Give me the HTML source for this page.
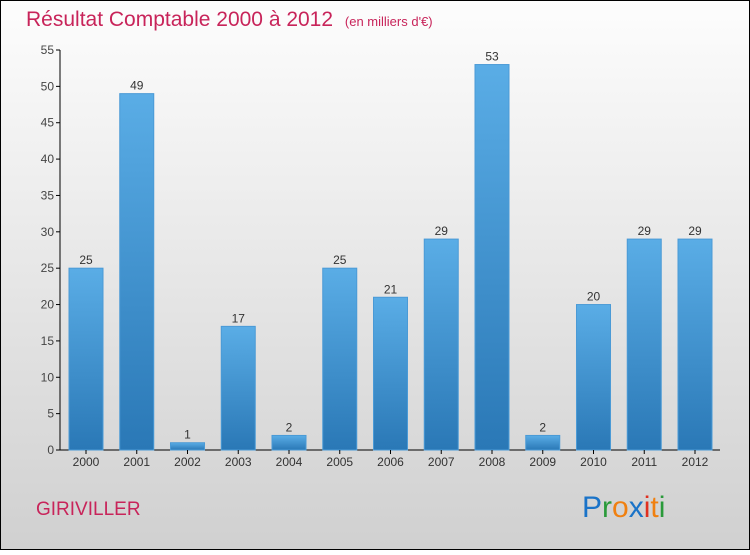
<!DOCTYPE html>
<html><head><meta charset="utf-8"><style>
html,body{margin:0;padding:0}
body{width:750px;height:550px;overflow:hidden;font-family:"Liberation Sans",sans-serif}
</style></head><body>
<svg width="750" height="550" xmlns="http://www.w3.org/2000/svg">
<defs>
<linearGradient id="bg" x1="0" y1="0" x2="0" y2="1"><stop offset="0" stop-color="#fdfdfd"/><stop offset="1" stop-color="#d0d0d0"/></linearGradient>
<linearGradient id="bar" x1="0" y1="0" x2="0" y2="1"><stop offset="0" stop-color="#5aade6"/><stop offset="1" stop-color="#2a78b6"/></linearGradient>
</defs>
<rect x="0.5" y="0.5" width="749" height="549" fill="url(#bg)" stroke="#000"/>
<text x="26" y="26" font-size="21" fill="#c8245a" font-weight="300">Résultat Comptable 2000 à 2012 <tspan font-size="13" dx="6">(en milliers d'€)</tspan></text>
<g id="plot"></g>
<text x="36" y="515" font-size="19" fill="#c8245a">GIRIVILLER</text>
<text x="582" y="517" font-size="30"><tspan fill="#1a73c8">P</tspan><tspan fill="#2a9a3a">r</tspan><tspan fill="#f08010">o</tspan><tspan fill="#1a73c8">x</tspan><tspan fill="#e03020">i</tspan><tspan fill="#f08010">t</tspan><tspan fill="#2a9a3a">i</tspan></text>
</svg>
<script>
const categories=["2000","2001","2002","2003","2004","2005","2006","2007","2008","2009","2010","2011","2012"];
const values=[25,49,1,17,2,25,21,29,53,2,20,29,29];
const yTicks=[0,5,10,15,20,25,30,35,40,45,50,55];
const NS="http://www.w3.org/2000/svg";
const g=document.getElementById("plot");
const y=v=>450-v*400/55;
const x=i=>86+i*50.75;
function mk(t,a){const e=document.createElementNS(NS,t);for(const k in a)e.setAttribute(k,a[k]);g.appendChild(e);return e;}
let ax=mk("line",{x1:60,y1:50,x2:60,y2:450,stroke:"#000"});


let bx=mk("line",{x1:60,y1:450,x2:720,y2:450,stroke:"#000"});


yTicks.forEach(t=>{
 let l=mk("line",{x1:56,y1:y(t),x2:60,y2:y(t),stroke:"#000"});
 
 
 let tx=mk("text",{x:54,y:y(t)+4,"font-size":12,fill:"#444","text-anchor":"end"});tx.textContent=t;
 
 
});
categories.forEach((c,i)=>{
 let r=mk("rect",{x:x(i)-17,y:y(values[i]),width:34,height:450-y(values[i]),fill:"url(#bar)",stroke:"#4a9ad6","stroke-width":1});
 
 
 let v=mk("text",{x:x(i),y:y(values[i])-4,"font-size":12,fill:"#333","text-anchor":"middle"});v.textContent=values[i];
 
 
 let tk=mk("line",{x1:x(i),y1:450,x2:x(i),y2:454,stroke:"#000"});
 
 
 let cl=mk("text",{x:x(i),y:466,"font-size":12,fill:"#333","text-anchor":"middle"});cl.textContent=c;
 
 
});
</script>
</body></html>
